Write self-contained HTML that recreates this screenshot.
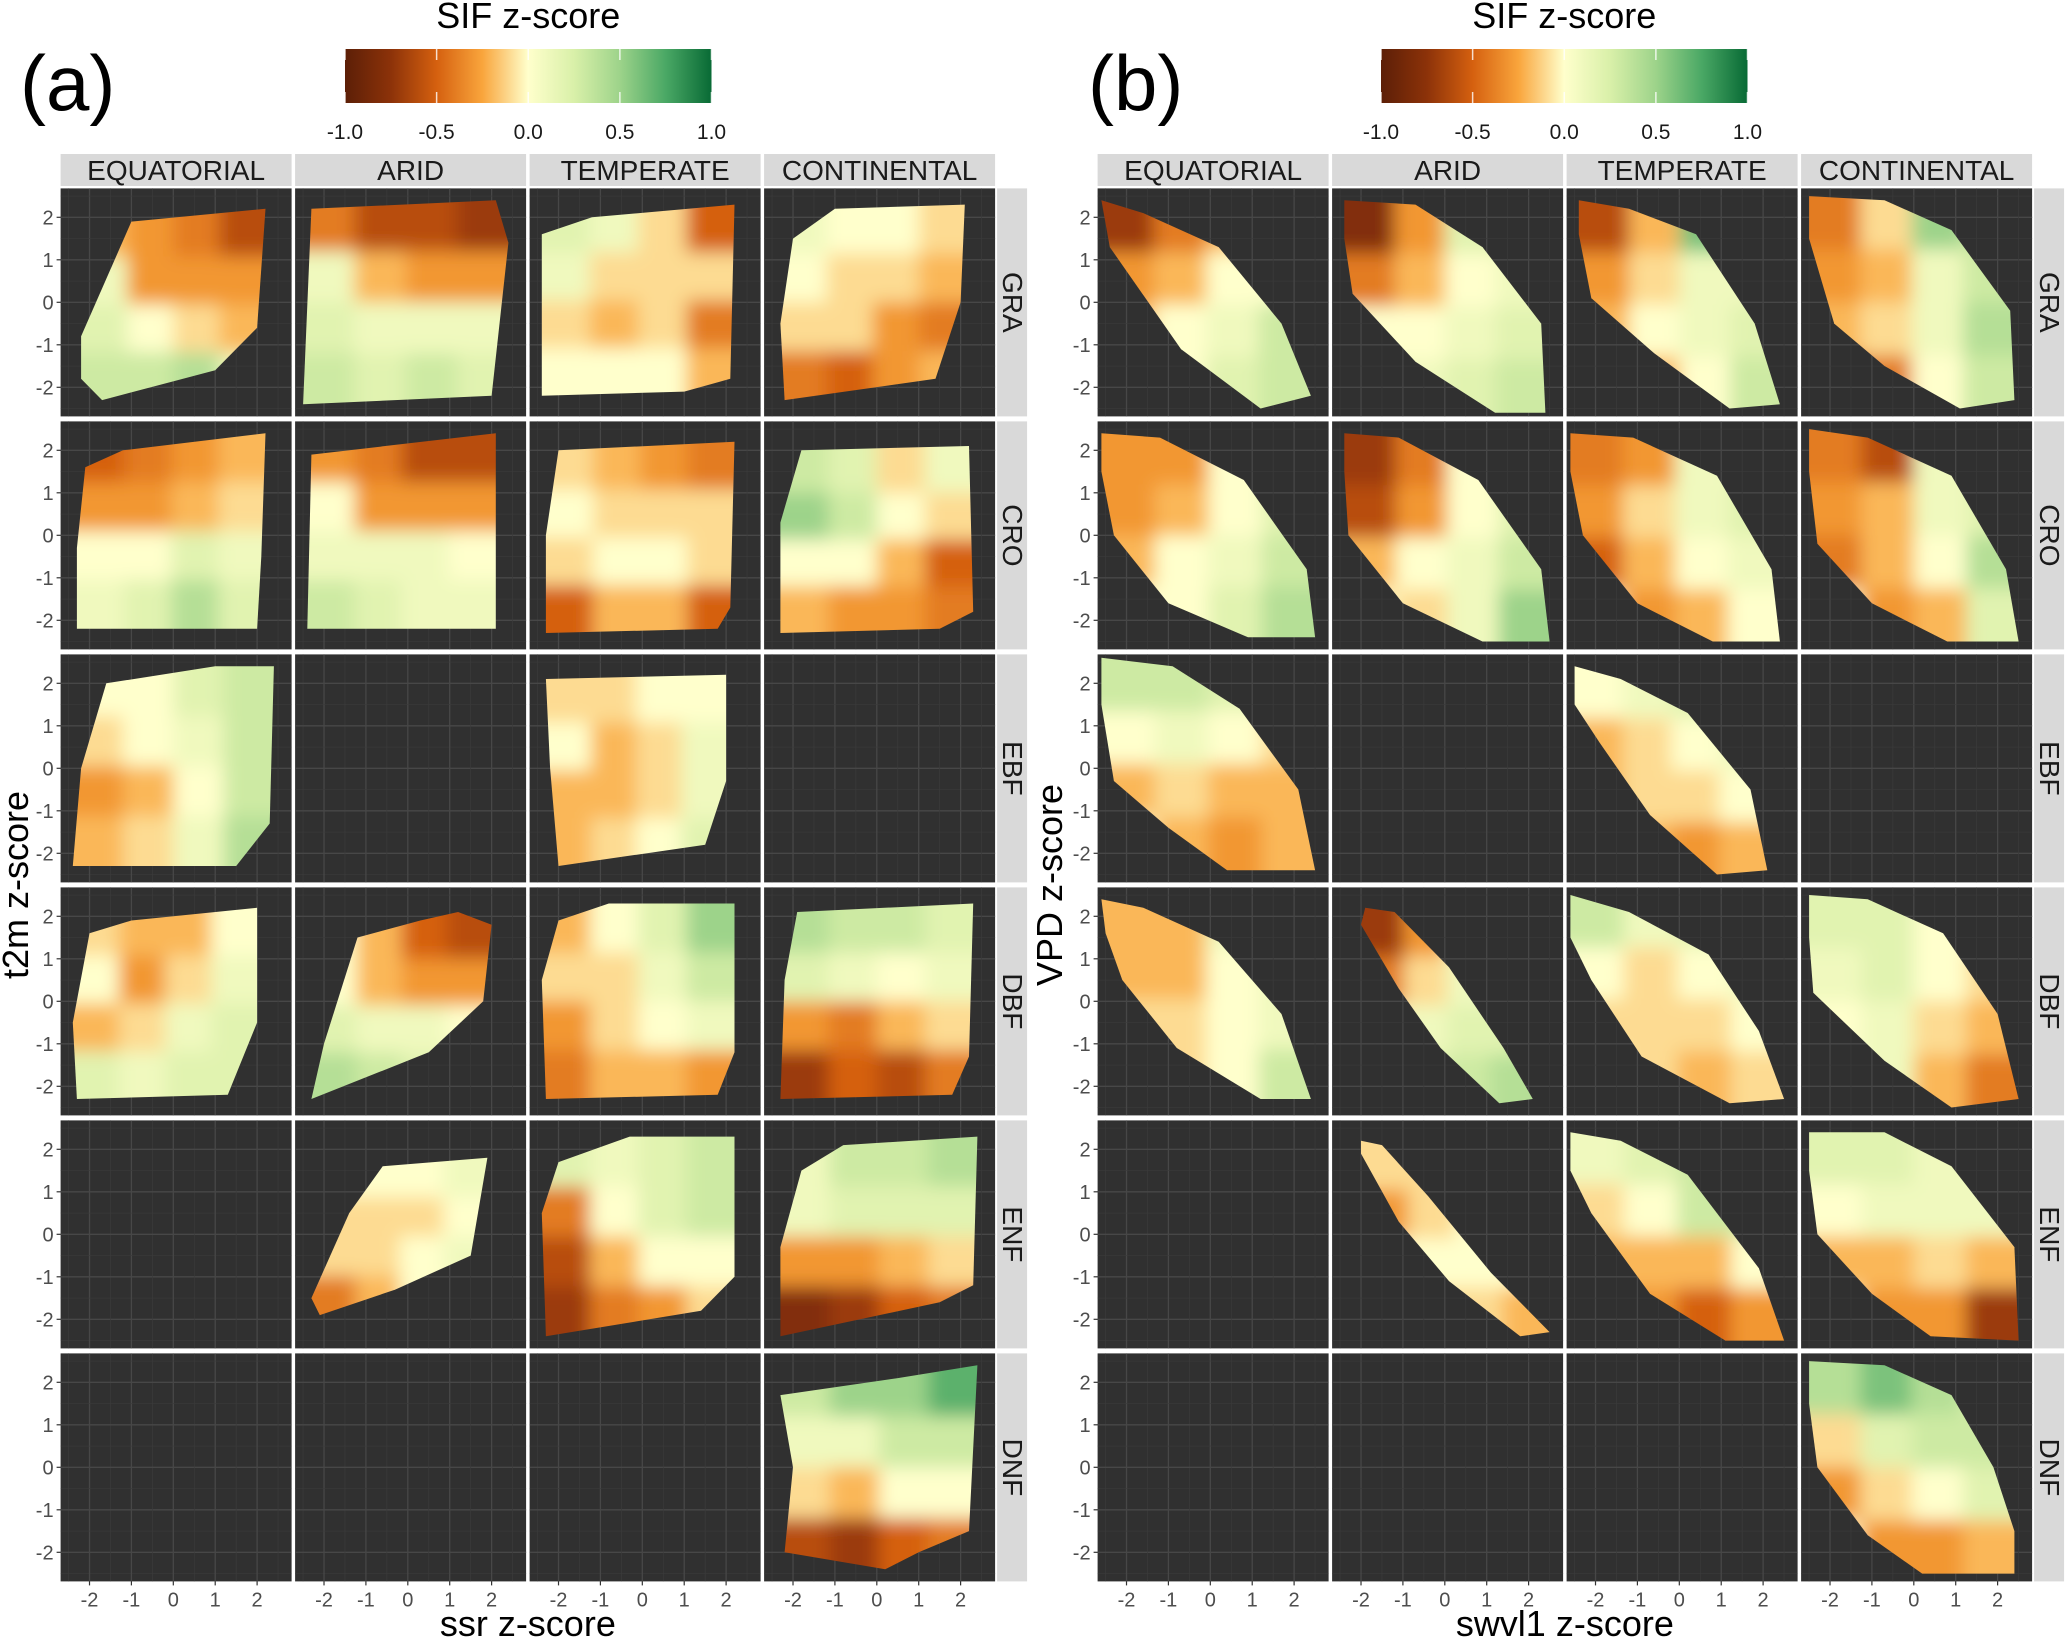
<!DOCTYPE html>
<html><head><meta charset="utf-8">
<style>
html,body{margin:0;padding:0;background:#fff;}
svg{display:block;font-family:"Liberation Sans",sans-serif;}
</style></head>
<body>
<svg id="fig" width="2066" height="1638" viewBox="0 0 2066 1638" xmlns="http://www.w3.org/2000/svg">
<defs>
<linearGradient id="cbar" x1="0" x2="1" y1="0" y2="0">
<stop offset="0" stop-color="#5c1f07"/>
<stop offset="0.125" stop-color="#8c3209"/>
<stop offset="0.25" stop-color="#d5600f"/>
<stop offset="0.375" stop-color="#f9a53c"/>
<stop offset="0.5" stop-color="#ffffcc"/>
<stop offset="0.625" stop-color="#d9f0a9"/>
<stop offset="0.75" stop-color="#9dd38a"/>
<stop offset="0.875" stop-color="#4aa865"/>
<stop offset="1" stop-color="#086a35"/>
</linearGradient>
<filter id="soft" x="-10%" y="-10%" width="120%" height="120%"><feGaussianBlur stdDeviation="9"/></filter>
</defs>
<g id="root"></g>
</svg>
<script>
const regions = ["EQUATORIAL","ARID","TEMPERATE","CONTINENTAL"];
const vegTypes = ["GRA","CRO","EBF","DBF","ENF","DNF"];
const xTicks = [-2,-1,0,1,2];
const yTicks = [-2,-1,0,1,2];
const colorTicks = [-1.0,-0.5,0.0,0.5,1.0];
const colorTickLabels = ["-1.0","-0.5","0.0","0.5","1.0"];

const shapesA = [
 [[[-1.0,1.9],[2.2,2.2],[2.0,-0.6],[1.0,-1.6],[-1.7,-2.3],[-2.2,-1.8],[-2.2,-0.8]],
  [[-2.3,2.2],[2.1,2.4],[2.4,1.4],[2.0,-2.2],[-2.5,-2.4]],
  [[-2.4,1.6],[-1.2,2.0],[2.2,2.3],[2.1,-1.8],[1.0,-2.1],[-2.4,-2.2]],
  [[-2.0,1.5],[-1.0,2.2],[2.1,2.3],[2.0,0.0],[1.4,-1.8],[-2.2,-2.3],[-2.3,-0.5]]],
 [[[-2.1,1.6],[-1.2,2.0],[2.2,2.4],[2.1,-0.5],[2.0,-2.2],[-2.3,-2.2],[-2.3,-0.3]],
  [[-2.3,1.9],[2.1,2.4],[2.1,-2.2],[-2.4,-2.2]],
  [[-2.0,2.0],[2.2,2.2],[2.1,-1.7],[1.8,-2.2],[-2.3,-2.3],[-2.3,0.0]],
  [[-1.8,2.0],[2.2,2.1],[2.3,-1.8],[1.5,-2.2],[-2.3,-2.3],[-2.3,0.3]]],
 [[[-1.6,2.0],[1.0,2.4],[2.4,2.4],[2.3,-1.3],[1.5,-2.3],[-2.4,-2.3],[-2.2,0.0]],
  null,
  [[-2.3,2.1],[2.0,2.2],[2.0,-0.3],[1.5,-1.8],[-2.0,-2.3],[-2.2,0.0]],
  null],
 [[[-2.0,1.6],[-1.0,1.9],[2.0,2.2],[2.0,-0.5],[1.3,-2.2],[-2.3,-2.3],[-2.4,-0.5]],
  [[-1.2,1.5],[0.3,1.9],[1.2,2.1],[2.0,1.8],[1.8,0.0],[0.5,-1.2],[-2.3,-2.3],[-2.0,-1.0]],
  [[-2.0,1.9],[-0.8,2.3],[2.2,2.3],[2.2,-1.2],[1.8,-2.2],[-2.3,-2.3],[-2.4,0.5]],
  [[-1.9,2.1],[2.3,2.3],[2.2,-1.3],[1.8,-2.2],[-2.3,-2.3],[-2.2,0.5]]],
 [null,
  [[-0.6,1.6],[1.9,1.8],[1.5,-0.5],[-0.3,-1.3],[-2.1,-1.9],[-2.3,-1.5],[-1.4,0.5]],
  [[-2.0,1.7],[-0.3,2.3],[2.2,2.3],[2.2,-1.0],[1.4,-1.8],[-2.3,-2.4],[-2.4,0.5]],
  [[-1.8,1.5],[-0.8,2.1],[2.4,2.3],[2.3,-1.2],[1.5,-1.6],[-2.3,-2.4],[-2.3,-0.3]]],
 [null,null,null,
  [[-2.3,1.7],[0.5,2.1],[2.4,2.4],[2.2,-1.5],[1.0,-2.0],[0.2,-2.4],[-2.2,-2.0],[-2.0,0.0]]]
];
const valuesA = [
 [[[-0.2,-0.3,-0.4,-0.6],[0.1,-0.3,-0.3,-0.3],[0.2,0.0,-0.1,-0.2],[0.3,0.3,0.4,0.1]],
  [[-0.4,-0.6,-0.6,-0.7],[0.1,-0.2,-0.3,-0.3],[0.2,0.1,0.1,0.1],[0.3,0.2,0.3,0.2]],
  [[0.2,0.1,-0.1,-0.5],[0.1,-0.1,-0.1,-0.1],[-0.1,-0.2,-0.1,-0.4],[0.0,0.0,0.0,-0.2]],
  [[0.1,0.0,0.0,-0.1],[0.0,-0.1,-0.1,-0.2],[-0.1,-0.1,-0.3,-0.4],[-0.4,-0.5,-0.3,-0.2]]],
 [[[-0.5,-0.4,-0.3,-0.2],[-0.3,-0.3,-0.2,-0.1],[0.0,0.0,0.2,0.1],[0.1,0.2,0.4,0.2]],
  [[-0.3,-0.4,-0.6,-0.6],[0.0,-0.3,-0.3,-0.3],[0.1,0.1,0.1,0.0],[0.3,0.2,0.1,0.1]],
  [[-0.1,-0.2,-0.3,-0.4],[0.0,-0.1,-0.1,-0.1],[-0.1,0.0,0.0,-0.1],[-0.5,-0.2,-0.2,-0.5]],
  [[0.3,0.2,-0.1,0.1],[0.5,0.3,0.0,-0.1],[0.0,0.0,-0.2,-0.5],[-0.2,-0.3,-0.3,-0.4]]],
 [[[0.0,0.0,0.2,0.3],[-0.1,0.0,0.1,0.3],[-0.3,-0.2,0.0,0.3],[-0.2,-0.1,0.1,0.4]],
  null,
  [[-0.1,-0.1,0.0,0.0],[0.0,-0.2,-0.1,0.1],[-0.2,-0.2,-0.1,0.1],[-0.2,-0.1,0.0,0.2]],
  null],
 [[[-0.1,-0.2,-0.2,0.0],[0.0,-0.3,-0.1,0.1],[-0.2,-0.1,0.1,0.2],[0.2,0.1,0.2,0.2]],
  [[0.0,-0.2,-0.5,-0.6],[0.0,-0.2,-0.3,-0.3],[0.2,0.1,0.1,0.0],[0.4,0.3,0.2,0.1]],
  [[-0.2,0.0,0.2,0.5],[-0.1,-0.1,0.1,0.3],[-0.3,-0.1,0.0,0.1],[-0.4,-0.2,-0.2,-0.3]],
  [[0.4,0.3,0.3,0.2],[0.2,0.1,0.0,0.1],[-0.3,-0.4,-0.2,-0.1],[-0.7,-0.5,-0.6,-0.4]]],
 [null,
  [[0.0,0.0,0.0,0.1],[-0.1,-0.1,-0.1,0.0],[-0.1,-0.1,0.0,0.1],[-0.4,-0.2,0.0,0.0]],
  [[0.2,0.1,0.2,0.3],[-0.4,0.0,0.2,0.3],[-0.6,-0.2,0.0,0.0],[-0.7,-0.4,-0.3,-0.1]],
  [[0.1,0.3,0.3,0.4],[0.1,0.2,0.2,0.2],[-0.3,-0.3,-0.2,-0.1],[-0.8,-0.7,-0.5,-0.4]]],
 [null,null,null,
  [[0.3,0.5,0.5,0.7],[0.1,0.1,0.3,0.3],[-0.1,-0.2,0.0,0.0],[-0.6,-0.7,-0.5,-0.4]]]
];
const shapesB = [
 [[[-2.6,2.4],[-1.6,2.1],[0.2,1.3],[1.7,-0.5],[2.4,-2.2],[1.2,-2.5],[-0.7,-1.1],[-2.4,1.3]],
  [[-2.4,2.4],[-0.7,2.3],[0.9,1.3],[2.3,-0.5],[2.4,-2.6],[1.2,-2.6],[-0.7,-1.4],[-2.2,0.2],[-2.4,1.5]],
  [[-2.4,2.4],[-1.2,2.2],[0.4,1.6],[1.8,-0.5],[2.4,-2.4],[1.2,-2.5],[-0.6,-1.2],[-2.1,0.1],[-2.4,1.6]],
  [[-2.5,2.5],[-0.7,2.4],[0.9,1.7],[2.3,-0.2],[2.4,-2.3],[1.1,-2.5],[-0.7,-1.5],[-1.9,-0.5],[-2.5,1.5]]],
 [[[-2.6,2.4],[-1.2,2.3],[0.8,1.3],[2.3,-0.8],[2.5,-2.4],[0.9,-2.4],[-1.0,-1.6],[-2.3,0.0],[-2.6,1.5]],
  [[-2.4,2.4],[-1.1,2.3],[0.8,1.3],[2.3,-0.8],[2.5,-2.5],[0.9,-2.5],[-1.0,-1.6],[-2.3,0.0],[-2.4,1.5]],
  [[-2.6,2.4],[-1.1,2.3],[0.9,1.4],[2.2,-0.8],[2.4,-2.5],[0.8,-2.5],[-1.0,-1.6],[-2.3,0.0],[-2.6,1.5]],
  [[-2.5,2.5],[-1.1,2.3],[0.9,1.4],[2.2,-0.8],[2.5,-2.5],[0.8,-2.5],[-1.0,-1.6],[-2.3,-0.2],[-2.5,1.5]]],
 [[[-2.6,2.6],[-0.9,2.4],[0.7,1.4],[2.1,-0.5],[2.5,-2.4],[0.4,-2.4],[-1.0,-1.4],[-2.3,-0.3],[-2.6,1.5]],
  null,
  [[-2.5,2.4],[-1.4,2.1],[0.2,1.3],[1.7,-0.5],[2.1,-2.4],[0.9,-2.5],[-0.7,-1.1],[-1.9,0.6],[-2.5,1.5]],
  null],
 [[[-2.6,2.4],[-1.6,2.2],[0.2,1.4],[1.7,-0.3],[2.4,-2.3],[1.2,-2.3],[-0.8,-1.1],[-2.1,0.5],[-2.5,1.6]],
  [[-1.9,2.2],[-1.2,2.1],[0.1,0.8],[1.4,-1.1],[2.1,-2.3],[1.3,-2.4],[-0.1,-1.1],[-1.1,0.3],[-2.0,1.8]],
  [[-2.6,2.5],[-1.2,2.1],[0.7,1.1],[1.9,-0.7],[2.5,-2.3],[1.2,-2.4],[-0.9,-1.3],[-2.1,0.5],[-2.6,1.5]],
  [[-2.5,2.5],[-1.1,2.4],[0.7,1.6],[2.0,-0.3],[2.5,-2.3],[0.9,-2.5],[-0.7,-1.4],[-2.4,0.2],[-2.5,1.5]]],
 [null,
  [[-2.0,2.2],[-1.5,2.1],[-0.4,0.9],[1.1,-0.9],[2.5,-2.3],[1.8,-2.4],[0.1,-1.1],[-1.1,0.3],[-2.0,1.9]],
  [[-2.6,2.4],[-1.4,2.2],[0.2,1.4],[1.9,-0.8],[2.5,-2.5],[1.1,-2.5],[-0.7,-1.4],[-2.1,0.5],[-2.6,1.5]],
  [[-2.5,2.4],[-0.7,2.4],[0.9,1.6],[2.4,-0.3],[2.5,-2.5],[0.4,-2.4],[-1.0,-1.4],[-2.3,0.0],[-2.5,1.5]]],
 [null,null,null,
  [[-2.5,2.5],[-0.7,2.4],[0.9,1.7],[1.9,0.0],[2.4,-1.5],[2.4,-2.5],[0.2,-2.5],[-1.1,-1.6],[-2.3,0.0],[-2.5,1.5]]]
];
const valuesB = [
 [[[-0.7,-0.4,-0.2,0.0],[-0.3,-0.2,0.0,0.0],[-0.2,0.0,0.1,0.3],[0.0,0.0,0.2,0.3]],
  [[-0.8,-0.3,0.2,0.2],[-0.4,-0.2,0.0,0.1],[0.0,0.0,0.1,0.2],[0.1,0.1,0.2,0.3]],
  [[-0.6,-0.2,0.6,0.3],[-0.3,-0.1,0.1,0.1],[-0.2,0.0,0.1,0.2],[-0.3,-0.2,0.0,0.3]],
  [[-0.4,-0.1,0.5,0.3],[-0.3,-0.2,0.1,0.3],[-0.2,-0.1,0.1,0.4],[-0.5,-0.4,0.0,0.3]]],
 [[[-0.3,-0.3,0.0,0.1],[-0.3,-0.2,0.0,0.2],[-0.2,0.0,0.1,0.3],[0.0,0.0,0.2,0.4]],
  [[-0.7,-0.4,0.0,0.1],[-0.6,-0.3,0.0,0.2],[-0.2,0.0,0.1,0.3],[0.0,-0.1,0.1,0.5]],
  [[-0.4,-0.3,0.1,0.1],[-0.3,-0.1,0.1,0.2],[-0.5,-0.2,0.0,0.1],[0.0,-0.3,-0.2,0.0]],
  [[-0.4,-0.6,0.1,0.1],[-0.3,-0.2,0.1,0.2],[-0.4,-0.2,0.0,0.4],[0.0,-0.3,-0.2,0.2]]],
 [[[0.3,0.3,0.2,0.0],[0.0,0.1,0.0,-0.1],[-0.2,-0.1,-0.2,-0.2],[0.0,-0.2,-0.3,-0.2]],
  null,
  [[0.0,0.1,0.2,0.0],[-0.2,-0.1,0.0,0.1],[-0.2,-0.1,-0.1,0.0],[0.0,-0.2,-0.3,-0.2]],
  null],
 [[[-0.2,-0.2,0.1,0.0],[-0.2,-0.2,0.0,0.1],[-0.1,-0.1,0.0,0.1],[0.0,-0.1,0.0,0.3]],
  [[-0.7,-0.3,0.0,0.0],[-0.4,-0.1,0.1,0.1],[0.0,0.1,0.2,0.2],[0.0,0.2,0.3,0.4]],
  [[0.3,0.1,0.2,0.2],[0.0,-0.1,0.0,0.1],[-0.1,-0.1,-0.1,0.0],[0.0,-0.1,-0.2,-0.1]],
  [[0.2,0.2,0.0,0.0],[0.1,0.2,0.0,-0.1],[0.0,0.1,-0.1,-0.2],[0.0,0.1,-0.2,-0.4]]],
 [null,
  [[-0.1,-0.1,0.0,0.0],[-0.3,-0.1,0.0,0.0],[0.0,0.0,0.0,0.0],[0.0,-0.1,-0.1,-0.2]],
  [[0.1,0.2,0.3,0.2],[-0.1,0.0,0.3,0.3],[-0.2,-0.2,-0.2,0.0],[0.0,-0.3,-0.5,-0.3]],
  [[0.2,0.2,0.1,0.1],[0.0,0.1,0.1,0.1],[-0.2,-0.2,-0.1,-0.2],[0.0,-0.3,-0.3,-0.7]]],
 [null,null,null,
  [[0.4,0.6,0.4,0.2],[-0.1,0.2,0.3,0.3],[-0.3,-0.1,0.0,0.2],[0.0,-0.3,-0.3,-0.2]]]
];

const NS = "http://www.w3.org/2000/svg";
const root = document.getElementById("root");
function mk(tag, attrs, parent){
  const e = document.createElementNS(NS, tag);
  for (const k in attrs) e.setAttribute(k, attrs[k]);
  (parent||root).appendChild(e);
  return e;
}
const stops = [[-1,[92,31,7]],[-0.75,[140,50,9]],[-0.5,[213,96,15]],[-0.25,[249,165,60]],[0,[255,255,204]],[0.25,[217,240,169]],[0.5,[157,211,138]],[0.75,[74,168,101]],[1,[8,106,53]]];
function color(v){
  v = Math.max(-1, Math.min(1, v));
  for (let i=0;i<stops.length-1;i++){
    const a=stops[i], b=stops[i+1];
    if (v>=a[0] && v<=b[0]){
      const t=(v-a[0])/(b[0]-a[0]);
      const c=a[1].map((x,j)=>Math.round(x+(b[1][j]-x)*t));
      return "rgb("+c.join(",")+")";
    }
  }
  return "rgb(255,255,204)";
}

const PW = 231, PH = 228, COLSTEP = 234.5, ROWSTEP = 233, TOP = 188.4;
const X0 = 2.69, XU = 41.9, Y0 = 2.68, YU = 42.5;
const FONT_TICK = 20;

function drawFigure(originX, shapes, values, xTitle, yTitle, yTitleX, letter, letterX, cbarX, key){
  const cbarW = 366.5;
  let t = mk("text", {x:letterX, y:110, "font-size":78, fill:"#000"});
  t.textContent = letter;
  
  
  t = mk("text", {x:cbarX+cbarW/2, y:28, "font-size":36, "text-anchor":"middle", fill:"#000"});
  t.textContent = "SIF z-score";
  
  
  const cb = mk("rect", {x:cbarX, y:49, width:cbarW, height:54, fill:"url(#cbar)"});
  
  
  colorTicks.forEach((v,i)=>{
    const cx = cbarX + (v+1)/2*cbarW;
    mk("line",{x1:cx,x2:cx,y1:49,y2:60,stroke:"#fff","stroke-width":1.5,opacity:0.8});
    mk("line",{x1:cx,x2:cx,y1:92,y2:103,stroke:"#fff","stroke-width":1.5,opacity:0.8});
    const l = mk("text",{x:cx,y:139,"font-size":21,"text-anchor":"middle",fill:"#1a1a1a"});
    l.textContent = colorTickLabels[i];
    
    
  });
  for (let c=0;c<4;c++){
    const left = originX + c*COLSTEP;
    const s = mk("rect",{x:left,y:154,width:PW,height:32,fill:"#d9d9d9"});
    
    
    const st = mk("text",{x:left+PW/2,y:180,"font-size":28,"text-anchor":"middle",fill:"#1a1a1a"});
    st.textContent = regions[c];
    
    
  }
  const stripX = originX + 3*COLSTEP + PW + 2;
  for (let r=0;r<6;r++){
    const top = TOP + r*ROWSTEP;
    const s = mk("rect",{x:stripX,y:top,width:30,height:PH,fill:"#d9d9d9"});
    
    
    const st = mk("text",{x:0,y:0,"font-size":28,"text-anchor":"middle",fill:"#1a1a1a",
      transform:"translate("+(stripX+6)+","+(top+PH/2)+") rotate(90)"});
    st.textContent = vegTypes[r];
    
    
    for (let c=0;c<4;c++){
      const left = originX + c*COLSTEP;
      const xs = v => left + (v + X0)*XU;
      const ys = v => top + (Y0 - v)*YU;
      const p = mk("rect",{x:left,y:top,width:PW,height:PH,fill:"#303030"});
      
      
      for (let g=-2.5; g<=2.5; g+=0.5){
        const major = Number.isInteger(g);
        const gx = xs(g), gy = ys(g);
        if (gx>left && gx<left+PW) mk("line",{x1:gx,x2:gx,y1:top,y2:top+PH,stroke:major?"#474747":"#3b3b3b","stroke-width":major?1.3:0.7});
        if (gy>top && gy<top+PH) mk("line",{x1:left,x2:left+PW,y1:gy,y2:gy,stroke:major?"#474747":"#3b3b3b","stroke-width":major?1.3:0.7});
      }
      const shape = shapes[r][c], vals = values[r][c];
      if (shape && vals){
        const cid = "clip-"+key+"-"+r+"-"+c;
        const cp = mk("clipPath",{id:cid});
        mk("polygon",{points:shape.map(q=>xs(q[0]).toFixed(1)+","+ys(q[1]).toFixed(1)).join(" ")}, cp);
        const outer = mk("g",{"clip-path":"url(#"+cid+")"});
        
        
        const inner = mk("g",{filter:"url(#soft)"}, outer);
        const xmin=Math.min(...shape.map(q=>q[0])), xmax=Math.max(...shape.map(q=>q[0]));
        const ymin=Math.min(...shape.map(q=>q[1])), ymax=Math.max(...shape.map(q=>q[1]));
        const n = vals.length, m = vals[0].length;
        const cw = (xmax-xmin)/m, ch = (ymax-ymin)/n;
        for (let i=0;i<n;i++) for (let j=0;j<m;j++){
          const v = vals[i][j];
          if (v===null) continue;
          let x1 = xs(xmin + j*cw), x2 = xs(xmin + (j+1)*cw);
          let y1 = ys(ymax - i*ch), y2 = ys(ymax - (i+1)*ch);
          if (j===0) x1 -= 30; if (j===m-1) x2 += 30;
          if (i===0) y1 -= 30; if (i===n-1) y2 += 30;
          const cell = mk("rect",{x:x1,y:y1,width:x2-x1+0.5,height:y2-y1+0.5,fill:color(v)}, inner);
          
          
        }
      }
      if (c===0){
        yTicks.forEach(v=>{
          mk("line",{x1:left-4,x2:left,y1:ys(v),y2:ys(v),stroke:"#333","stroke-width":1.2});
          const l = mk("text",{x:left-7,y:ys(v)+7,"font-size":FONT_TICK,"text-anchor":"end",fill:"#4d4d4d"});
          l.textContent = String(v);
          
          
        });
      }
      if (r===5){
        xTicks.forEach(v=>{
          mk("line",{x1:xs(v),x2:xs(v),y1:top+PH,y2:top+PH+4,stroke:"#333","stroke-width":1.2});
          const l = mk("text",{x:xs(v),y:top+PH+25,"font-size":FONT_TICK,"text-anchor":"middle",fill:"#4d4d4d"});
          l.textContent = String(v);
          
          
        });
      }
    }
  }
  const xt = mk("text",{x:originX+(3*COLSTEP+PW)/2,y:1636,"font-size":36,"text-anchor":"middle",fill:"#000"});
  xt.textContent = xTitle;
  
  
  const yt = mk("text",{x:0,y:0,"font-size":36,"text-anchor":"middle",fill:"#000",
    transform:"translate("+yTitleX+",885) rotate(-90)"});
  yt.textContent = yTitle;
  
  
}
drawFigure(60.6, shapesA, valuesA, "ssr z-score", "t2m z-score", 28, "(a)", 20, 345, "a");
drawFigure(1097.6, shapesB, valuesB, "swvl1 z-score", "VPD z-score", 1062, "(b)", 1088, 1381, "b");
</script>
</body></html>
